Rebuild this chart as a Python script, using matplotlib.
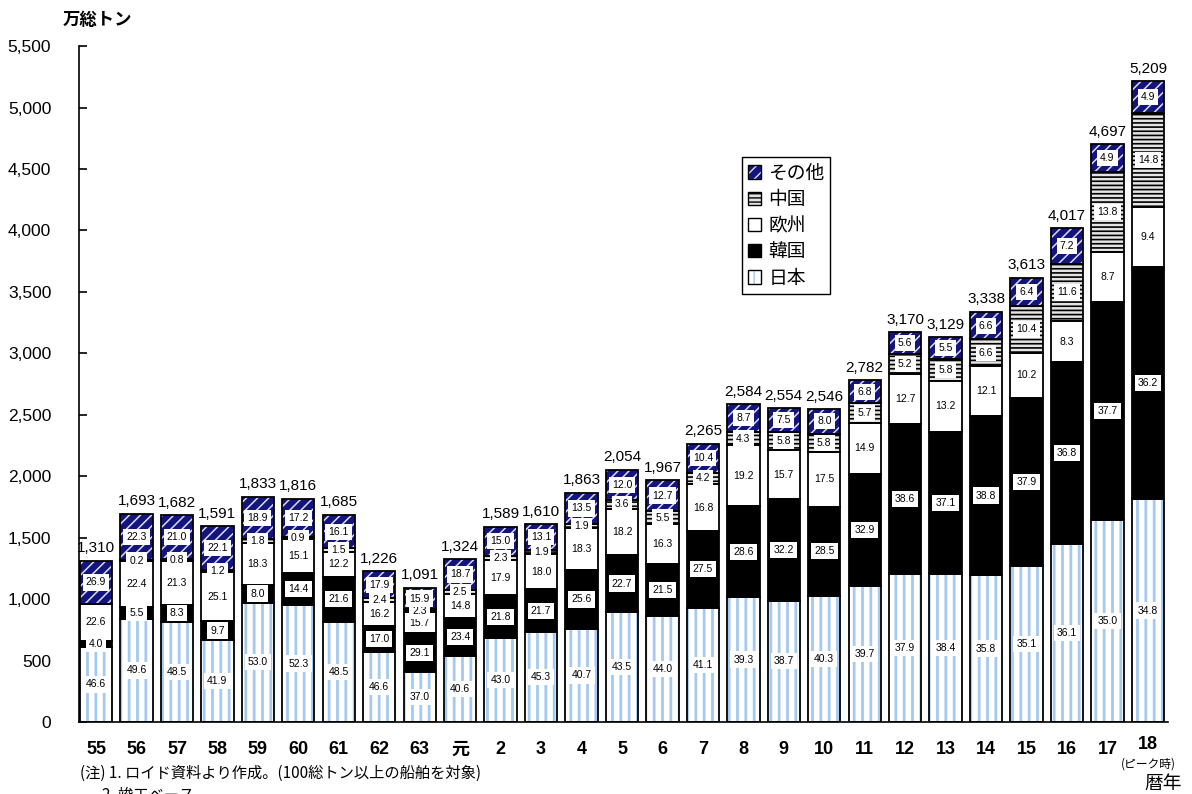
import matplotlib
matplotlib.use("Agg")
import matplotlib.pyplot as plt
import matplotlib.transforms as mtransforms
from matplotlib.patches import Patch
from matplotlib.ticker import FuncFormatter, MultipleLocator
import numpy as np

plt.rcParams['font.family'] = ['Liberation Sans', 'Noto Sans CJK JP', 'DejaVu Sans']

# World shipbuilding completions by year (10k gross tons) and shares (%)
years = ["55", "56", "57", "58", "59", "60", "61", "62", "63", "元",
         "2", "3", "4", "5", "6", "7", "8", "9", "10", "11",
         "12", "13", "14", "15", "16", "17", "18"]
totals = [1310, 1693, 1682, 1591, 1833, 1816, 1685, 1226, 1091, 1324,
          1589, 1610, 1863, 2054, 1967, 2265, 2584, 2554, 2546, 2782,
          3170, 3129, 3338, 3613, 4017, 4697, 5209]
japan = [46.6, 49.6, 48.5, 41.9, 53.0, 52.3, 48.5, 46.6, 37.0, 40.6,
         43.0, 45.3, 40.7, 43.5, 44.0, 41.1, 39.3, 38.7, 40.3, 39.7,
         37.9, 38.4, 35.8, 35.1, 36.1, 35.0, 34.8]
korea = [4.0, 5.5, 8.3, 9.7, 8.0, 14.4, 21.6, 17.0, 29.1, 23.4,
         21.8, 21.7, 25.6, 22.7, 21.5, 27.5, 28.6, 32.2, 28.5, 32.9,
         38.6, 37.1, 38.8, 37.9, 36.8, 37.7, 36.2]
europe = [22.6, 22.4, 21.3, 25.1, 18.3, 15.1, 12.2, 16.2, 15.7, 14.8,
          17.9, 18.0, 18.3, 18.2, 16.3, 16.8, 19.2, 15.7, 17.5, 14.9,
          12.7, 13.2, 12.1, 10.2, 8.3, 8.7, 9.4]
china = [0.0, 0.2, 0.8, 1.2, 1.8, 0.9, 1.5, 2.4, 2.3, 2.5,
         2.3, 1.9, 1.9, 3.6, 5.5, 4.2, 4.3, 5.8, 5.8, 5.7,
         5.2, 5.8, 6.6, 10.4, 11.6, 13.8, 14.8]
others = [26.9, 22.3, 21.0, 22.1, 18.9, 17.2, 16.1, 17.9, 15.9, 18.7,
          15.0, 13.1, 13.5, 12.0, 12.7, 10.4, 8.7, 7.5, 8.0, 6.8,
          5.6, 5.5, 6.6, 6.4, 7.2, 4.9, 4.9]

series = [
    ("日本", japan, dict(fc="white", hatch="||", hc="#a6c9ee", hlw=2.0)),
    ("韓国", korea, dict(fc="black", hatch=None, hc="black", hlw=1.0)),
    ("欧州", europe, dict(fc="white", hatch=None, hc="white", hlw=1.0)),
    ("中国", china, dict(fc="#e4e4e4", hatch="----", hc="black", hlw=1.2)),
    ("その他", others, dict(fc="#14147e", hatch="///", hc="#dcdcf0", hlw=1.1)),
]

fig = plt.figure(figsize=(11.92, 7.94), dpi=100)
ax = fig.add_axes([0.0663, 0.0907, 0.9137, 0.8513])

x = np.arange(len(years))
tot = np.array(totals, dtype=float)
bottom = np.zeros(len(years))
width = 0.8

for name, pct, st in series:
    pct = np.array(pct, dtype=float)
    h = tot * pct / 100.0
    plt.rcParams['hatch.linewidth'] = st["hlw"]
    ax.bar(x, h, bottom=bottom, width=width, color=st["fc"],
           hatch=st["hatch"], edgecolor=st["hc"], linewidth=0, zorder=2)
    ax.bar(x, h, bottom=bottom, width=width, fill=False,
           edgecolor="black", linewidth=1.3, zorder=3)
    for xi, b, hi, p in zip(x, bottom, h, pct):
        if p <= 0:
            continue
        ax.text(xi, b + hi / 2, f"{p:.1f}", ha="center", va="center",
                fontsize=7.5, color="black", zorder=5,
                bbox=dict(boxstyle="square,pad=0.3", fc="white", ec="none"))
    bottom = bottom + h

# total labels above each bar
for xi, t in zip(x, totals):
    ax.text(xi, t + 45, f"{t:,}", ha="center", va="bottom", fontsize=11)

ax.set_xlim(-0.42, 26.5)
ax.set_ylim(0, 5500)
ax.yaxis.set_major_locator(MultipleLocator(500))
ax.yaxis.set_major_formatter(FuncFormatter(lambda v, p: f"{int(v):,}"))
ax.tick_params(axis="y", direction="in", length=6, width=1.2, labelsize=12.5, pad=20)
ax.set_xticks(x)
ax.set_xticklabels(years, fontsize=13, fontweight="bold",
                   family=['Liberation Sans', 'Noto Sans CJK JP'])
ax.tick_params(axis="x", length=0, pad=14)
# lift the last year label so the peak note fits beneath it
last = ax.get_xticklabels()[-1]
last.set_transform(last.get_transform() +
                   mtransforms.ScaledTranslation(0, 4 / 72, fig.dpi_scale_trans))
for s in ["top", "right"]:
    ax.spines[s].set_visible(False)
ax.spines["left"].set_linewidth(1.2)
ax.spines["bottom"].set_linewidth(1.2)

# legend, top entry first
handles = []
labels = []
for name, pct, st in reversed(series):
    plt.rcParams['hatch.linewidth'] = 1.0
    fill = Patch(facecolor=st["fc"], hatch=st["hatch"], edgecolor=st["hc"], linewidth=0)
    edge = Patch(fill=False, edgecolor="black", linewidth=1.0)
    handles.append((fill, edge))
    labels.append(name)
leg = ax.legend(handles, labels, loc="upper left", bbox_to_anchor=(0.609, 0.836),
                borderaxespad=0, fancybox=False, edgecolor="black", framealpha=1,
                prop=dict(family=['Noto Sans CJK JP'], size=13.5),
                handlelength=0.7, handleheight=0.7, handletextpad=0.4,
                labelspacing=0.28, borderpad=0.3)
leg.get_frame().set_linewidth(1.0)

trans = mtransforms.blended_transform_factory(ax.transData, fig.transFigure)
ax.text(26, 1 - 764 / 794, "(ピーク時)", transform=trans, ha="center", va="center",
        fontsize=8.5, family=['Noto Sans CJK JP'])

fig.text(63 / 1192, 1 - 20 / 794, "万総トン", ha="left", va="center",
         fontsize=12.5, fontweight="bold", family=['Noto Sans CJK JP'])
fig.text(1163 / 1192, 1 - 783 / 794, "暦年", ha="center", va="center",
         fontsize=13.5, family=['Noto Sans CJK JP'])
fig.text(80 / 1192, 1 - 773 / 794, "(注) 1. ロイド資料より作成。(100総トン以上の船舶を対象)",
         ha="left", va="center", fontsize=11, family=['Noto Sans CJK JP'])
fig.text(102 / 1192, 1 - 787 / 794, "2. 竣工ベース", ha="left", va="top",
         fontsize=11, family=['Noto Sans CJK JP'])

fig.savefig("out.png", dpi=100)
